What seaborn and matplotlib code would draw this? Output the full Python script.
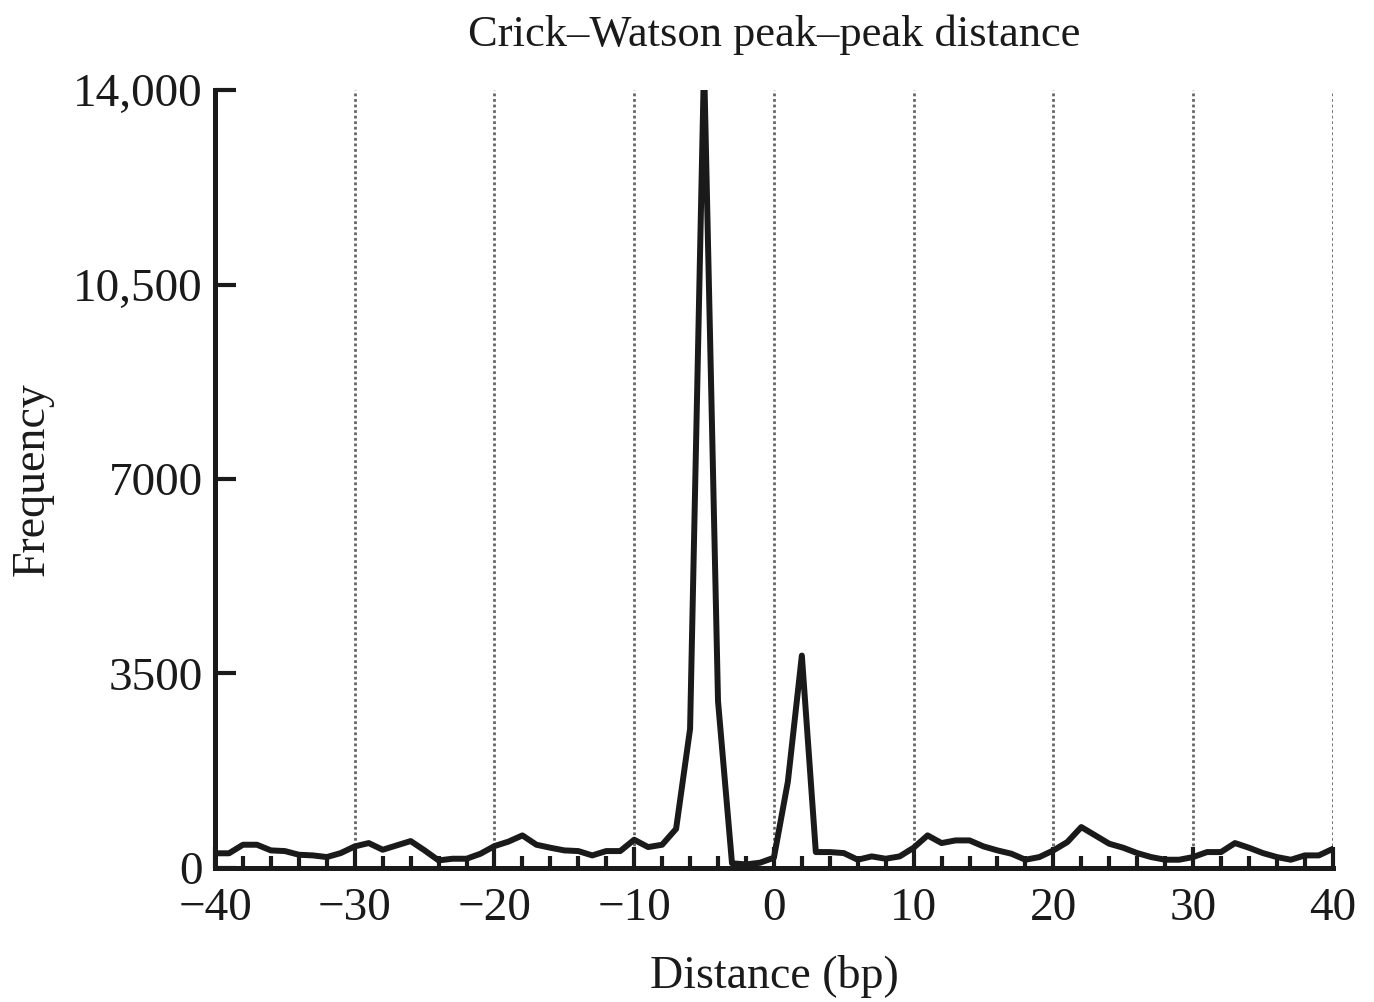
import numpy as np
import pandas as pd
import matplotlib
matplotlib.use("Agg")
import matplotlib.pyplot as plt
from matplotlib.ticker import MultipleLocator
import seaborn as sns

# --- Data ---
distance = list(range(-40, 41))
frequency = [
    260, 260, 414, 414, 312, 300, 234, 222, 192, 264,      # -40 .. -31
    384, 444, 324, 402, 480, 312, 132, 162, 162, 252,      # -30 .. -21
    390, 470, 582, 414, 360, 312, 300, 222, 300, 300,      # -20 .. -11
    504, 372, 414, 700, 2500, 14500, 3000, 80, 60, 90,     # -10 .. -1
    180, 1550, 3820, 282, 282, 264, 144, 204, 162, 204,    # 0 .. 9
    360, 582, 444, 492, 492, 384, 312, 252, 144, 192,      # 10 .. 19
    312, 462, 732, 582, 432, 360, 264, 192, 144, 144,      # 20 .. 29
    192, 282, 282, 444, 360, 264, 192, 144, 222, 222,      # 30 .. 39
    340,                                                   # 40
]
x_ticks = [-40, -30, -20, -10, 0, 10, 20, 30, 40]
y_ticks = [0, 3500, 7000, 10500, 14000]
y_tick_labels = ["0", "3500", "7000", "10,500", "14,000"]

df = pd.DataFrame({"Distance": distance, "Frequency": frequency})

# --- Plot ---
sns.set_style("ticks")
plt.rcParams["font.family"] = ["Liberation Serif", "DejaVu Serif"]

fig = plt.figure(figsize=(13.74, 10.02), dpi=100)
ax = fig.add_axes([0.1565, 0.134, 0.8135, 0.776])

# dotted vertical guide lines at every 10 bp
for gx in x_ticks[1:]:
    ax.axvline(gx, color="#666666", linestyle=(0, (1, 1)), linewidth=2.0, zorder=0)

sns.lineplot(data=df, x="Distance", y="Frequency", color="#1a1a1a",
             linewidth=4.3, ax=ax, zorder=3)

ax.set_xlim(-40, 40)
ax.set_ylim(0, 14000)
ax.set_xticks(x_ticks)
ax.xaxis.set_minor_locator(MultipleLocator(2))
ax.set_yticks(y_ticks)
ax.set_yticklabels(y_tick_labels)

ax.tick_params(axis="both", which="major", direction="in", length=15,
               width=3, labelsize=34, color="#1a1a1a", labelcolor="#1a1a1a")
ax.tick_params(axis="x", which="major", pad=14)
ax.tick_params(axis="y", which="major", pad=9)
ax.tick_params(axis="x", which="minor", direction="in", length=9,
               width=3, color="#1a1a1a")
ax.tick_params(axis="y", which="minor", left=False)

for side in ["top", "right"]:
    ax.spines[side].set_visible(False)
for side in ["left", "bottom"]:
    ax.spines[side].set_linewidth(3.6)
    ax.spines[side].set_color("#1a1a1a")

ax.set_title("Crick\u2013Watson peak\u2013peak distance", fontsize=32, pad=32,
             color="#1a1a1a")
ax.set_xlabel("Distance (bp)", fontsize=33, labelpad=18, color="#1a1a1a")
ax.set_ylabel("Frequency", fontsize=33, labelpad=14, color="#1a1a1a")

fig.savefig("out.png", dpi=100)
